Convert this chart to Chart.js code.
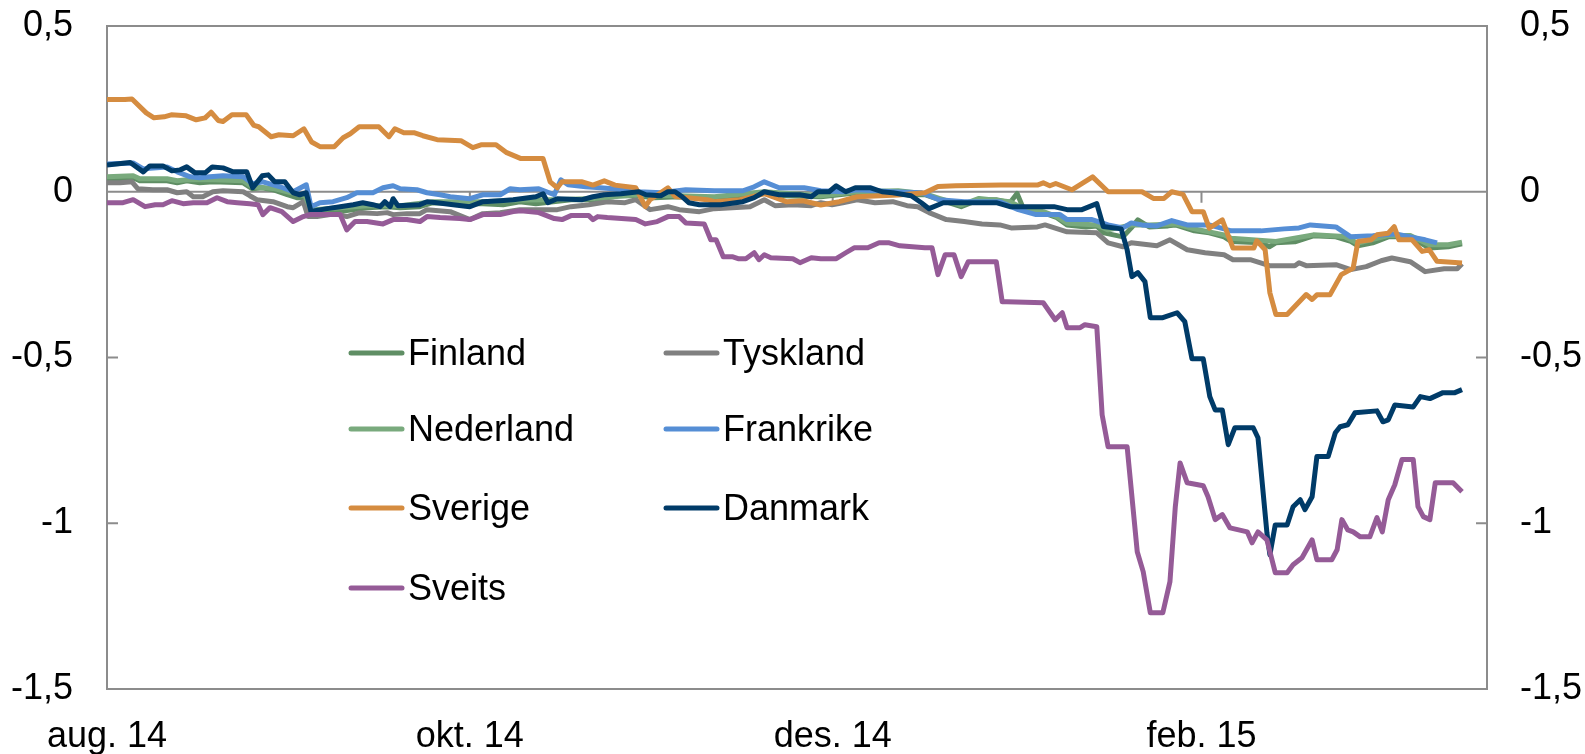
<!DOCTYPE html>
<html>

<head>
    <title>Rente</title>
    <script src="https://cdn.jsdelivr.net/npm/chart.js"></script>
    <style>
        body { margin: 0; background: #fff; }
        #wrap { width: 1585px; height: 754px; position: relative; }
    </style>
</head>

<body>
    <div id="wrap"><canvas id="myChart"></canvas></div>

    <script>
        // x = dager etter 1. aug. 2014, y = prosentpoeng
        const tickDays = [0, 61, 122, 184];
        const tickLabels = ["aug. 14", "okt. 14", "des. 14", "feb. 15"];

        const seriesNames = ["Finland", "Tyskland", "Nederland", "Frankrike", "Sverige", "Danmark", "Sveits"];
        const seriesColors = ["#5f8e64", "#808080", "#79aa7d", "#558ed5", "#d58c40", "#003b68", "#955b97"];

        const finland = [[0,0.036],[4.4,0.042],[5.5,0.033],[10.1,0.033],[11.8,0.027],[13.4,0.033],[15.6,0.027],[17.8,0.03],[22.9,0.027],[24.4,0.009],[26.1,0.012],[27.9,0.006],[30.3,-0.009],[31.9,-0.018],[33.3,-0.018],[34.3,-0.06],[38,-0.054],[40.3,-0.057],[43.7,-0.048],[47.1,-0.045],[49.3,-0.048],[52.6,-0.045],[54.8,-0.033],[59.3,-0.036],[63.2,-0.036],[66.6,-0.039],[69.4,-0.03],[72.1,-0.036],[75,-0.03],[78,-0.024],[82,-0.024],[86,-0.012],[89,-0.012],[92,-0.018],[96,-0.015],[102.1,-0.018],[106,-0.02],[110.5,-0.003],[114,-0.012],[120,-0.015],[126.1,-0.003],[130,-0.003],[133,0],[134.5,-0.009],[137.5,-0.009],[139.9,-0.024],[143.6,-0.045],[146.6,-0.024],[149.5,-0.024],[151.8,-0.033],[153,-0.005],[154,-0.048],[157.4,-0.063],[159.7,-0.078],[161.4,-0.1],[164.6,-0.106],[166.4,-0.103],[167.6,-0.124],[170.8,-0.136],[172.2,-0.109],[173.3,-0.085],[175.2,-0.106],[178.4,-0.103],[179.6,-0.1],[182.8,-0.118],[185.3,-0.124],[187.8,-0.136],[189,-0.15],[194,-0.154],[195.4,-0.166],[196.5,-0.154],[199.7,-0.151],[202.8,-0.133],[206.6,-0.136],[209.1,-0.15],[210.3,-0.163],[212.8,-0.154],[215.4,-0.136],[219.1,-0.136],[222.3,-0.17],[225.5,-0.166],[227.8,-0.157]];

        const tyskland = [[0,0.027],[2.2,0.027],[4.2,0.03],[5.2,0.009],[7.7,0.006],[10.1,0.006],[11.8,-0.003],[13.4,0],[14.5,-0.015],[16.1,-0.015],[17.8,0],[19.5,0.003],[22.9,0],[24,-0.012],[25.2,-0.024],[27.9,-0.03],[30.3,-0.045],[31.3,-0.048],[33,-0.03],[33.8,-0.075],[35.3,-0.075],[37.5,-0.069],[39.2,-0.069],[40.3,-0.075],[42.5,-0.063],[45.4,-0.066],[47.1,-0.063],[48.1,-0.069],[50.4,-0.066],[52.6,-0.066],[53.8,-0.054],[57.7,-0.06],[61,-0.084],[63.2,-0.066],[66.1,-0.063],[69.4,-0.054],[72.6,-0.054],[75.7,-0.054],[78,-0.045],[81,-0.039],[84.1,-0.03],[87.1,-0.033],[88.9,-0.024],[91.3,-0.054],[94.3,-0.045],[96.2,-0.054],[99.6,-0.06],[102.1,-0.051],[105.1,-0.048],[108.1,-0.045],[110.5,-0.024],[112.3,-0.042],[115.3,-0.039],[118.4,-0.042],[120,-0.033],[121.9,-0.039],[123.7,-0.033],[126.1,-0.024],[129.1,-0.033],[132.1,-0.03],[134.5,-0.042],[136.3,-0.045],[138.2,-0.063],[141.1,-0.084],[144.1,-0.09],[147.1,-0.097],[150.1,-0.1],[152,-0.109],[156.4,-0.106],[157.7,-0.1],[161.4,-0.121],[166.4,-0.124],[168.3,-0.154],[170.8,-0.166],[172.2,-0.154],[176.5,-0.163],[178.7,-0.145],[181.6,-0.175],[184.6,-0.184],[187.8,-0.19],[189.3,-0.205],[192.2,-0.205],[195.4,-0.223],[199.7,-0.223],[200.4,-0.214],[201.6,-0.223],[206.6,-0.22],[209.1,-0.235],[211.7,-0.226],[214.2,-0.208],[216,-0.2],[219.1,-0.211],[221.6,-0.241],[224.8,-0.232],[227,-0.232],[227.8,-0.217]];

        const nederland = [[0,0.045],[4.4,0.048],[5.5,0.039],[10.1,0.039],[11.8,0.033],[13.4,0.036],[17.8,0.036],[22.9,0.033],[24.4,0.015],[27.9,0.01],[30.3,0],[33.3,-0.012],[34.3,-0.055],[38,-0.05],[43.7,-0.042],[49.3,-0.042],[54.8,-0.03],[63.2,-0.03],[69.4,-0.025],[75,-0.024],[82,-0.02],[89,-0.009],[96,-0.012],[102.1,-0.015],[110.5,0],[120,-0.012],[126.1,0],[133,0.003],[137.5,-0.006],[139.9,-0.02],[143.6,-0.04],[146.6,-0.02],[151.8,-0.03],[154,-0.05],[157.4,-0.06],[159.7,-0.075],[161.4,-0.095],[166.4,-0.1],[168.3,-0.115],[172.2,-0.1],[175.2,-0.1],[179.6,-0.097],[182.8,-0.112],[187.8,-0.13],[189,-0.14],[196.5,-0.15],[202.8,-0.13],[208,-0.135],[210.3,-0.155],[215.4,-0.132],[219.1,-0.132],[222.3,-0.16],[225.5,-0.16],[227.8,-0.152]];

        const frankrike = [[0,0.084],[4.4,0.087],[6.1,0.069],[10.1,0.075],[11.8,0.06],[14,0.045],[15.6,0.042],[17.3,0.045],[19.5,0.048],[22.9,0.045],[24.5,0.024],[26.2,0.03],[29.1,0.015],[31.3,0],[33.5,0.021],[34.3,-0.045],[35.8,-0.033],[38,-0.03],[40.3,-0.018],[42,-0.003],[44.7,-0.003],[46.4,0.012],[48.1,0.018],[49.3,0.009],[52.1,0.006],[53.8,-0.003],[56,-0.009],[57.7,-0.015],[61,-0.021],[63.2,-0.009],[66.1,-0.009],[67.8,0.009],[69.4,0.006],[72.6,0.009],[75.2,-0.009],[76.3,0.036],[77.5,0.021],[80.5,0.015],[82.9,0.012],[87.1,0.006],[89.4,0],[93.1,-0.003],[97.3,0.006],[102.1,0.003],[106.9,0.003],[108.8,0.015],[110.5,0.03],[113,0.012],[117.2,0.012],[120,0.003],[123.7,0],[126.1,0.006],[132.1,0],[136.9,-0.003],[139.9,-0.024],[144.1,-0.03],[150.1,-0.03],[153.2,-0.054],[156.2,-0.069],[160.2,-0.069],[161.4,-0.084],[165.6,-0.084],[168.3,-0.1],[170.8,-0.109],[172.2,-0.094],[174,-0.1],[176.5,-0.103],[179,-0.087],[181.6,-0.1],[185.3,-0.1],[189,-0.118],[194,-0.118],[197.9,-0.112],[200.4,-0.109],[202.3,-0.1],[206.6,-0.106],[209.1,-0.136],[212.8,-0.133],[216.7,-0.127],[219.1,-0.136],[221.6,-0.145],[223.6,-0.154]];

        const sverige = [[0,0.278],[3,0.278],[4.2,0.28],[6.6,0.238],[7.9,0.223],[9.6,0.226],[10.8,0.232],[13.3,0.229],[15,0.217],[16.5,0.223],[17.5,0.24],[18.7,0.215],[19.5,0.212],[21,0.232],[23.4,0.232],[24.7,0.2],[25.5,0.196],[27.6,0.166],[28.9,0.172],[31.3,0.169],[33.1,0.19],[34.4,0.15],[35.8,0.136],[38.2,0.136],[39.7,0.163],[40.9,0.175],[42.4,0.196],[45.7,0.196],[47.4,0.166],[48.4,0.19],[49.9,0.178],[51.6,0.178],[53.1,0.169],[55.5,0.157],[59.5,0.154],[61.5,0.133],[63,0.142],[65.4,0.142],[67.2,0.118],[69.6,0.1],[73.3,0.1],[74.5,0.03],[75.7,0.012],[76.5,0.03],[79.9,0.03],[81.7,0.02],[83.6,0.033],[85.4,0.02],[88.9,0.012],[90.5,-0.045],[91.3,-0.024],[94.3,0.012],[95.5,-0.014],[100.9,-0.024],[102.1,-0.03],[106.4,-0.024],[110.5,-0.006],[114.2,-0.03],[117,-0.027],[120,-0.04],[123.1,-0.03],[126.1,-0.015],[133,-0.01],[137.5,-0.003],[139.7,0.016],[142.7,0.018],[150.3,0.02],[156.4,0.02],[157.4,0.027],[158.5,0.018],[159.5,0.025],[162.2,0.006],[165.7,0.045],[168.3,0],[174,0],[175.9,-0.02],[177.7,-0.02],[179,0],[180.9,-0.008],[182.4,-0.06],[184.3,-0.06],[185.3,-0.11],[187.5,-0.085],[189.3,-0.17],[192.8,-0.17],[193.3,-0.148],[194.7,-0.175],[195.5,-0.305],[196.5,-0.37],[198.4,-0.37],[201.6,-0.31],[202.6,-0.325],[203.4,-0.311],[205.6,-0.311],[207.5,-0.25],[209.5,-0.23],[210.3,-0.15],[212.5,-0.145],[213.5,-0.13],[215.4,-0.125],[216.4,-0.105],[217.2,-0.145],[219.4,-0.145],[221.1,-0.18],[222.3,-0.175],[223.6,-0.21],[227.8,-0.215]];

        const danmark = [[0,0.081],[3.9,0.088],[6.1,0.06],[7.2,0.078],[9.4,0.078],[10.9,0.063],[12.3,0.066],[13.4,0.075],[14.8,0.057],[16.5,0.057],[17.7,0.075],[19.5,0.072],[21.2,0.06],[23.5,0.06],[24.5,0.012],[26.1,0.048],[27.1,0.051],[28.2,0.03],[29.9,0.03],[31.3,-0.003],[32.4,-0.009],[33.5,-0.003],[34.3,-0.06],[35,-0.057],[37,-0.051],[39.2,-0.045],[41.4,-0.039],[43,-0.033],[44.7,-0.039],[45.9,-0.045],[46.7,-0.03],[47.6,-0.045],[48.1,-0.021],[48.9,-0.042],[52.6,-0.039],[53.8,-0.03],[55.5,-0.033],[58.2,-0.039],[61,-0.045],[63.2,-0.03],[66.1,-0.027],[68.3,-0.024],[72.1,-0.015],[73.3,-0.006],[74.1,-0.033],[75.7,-0.021],[79.9,-0.024],[81.7,-0.015],[83.6,-0.009],[86.4,-0.006],[89.4,0],[90.6,-0.009],[93.1,-0.012],[94.3,0],[95.5,0],[96.7,-0.015],[97.8,-0.033],[99.6,-0.039],[103.2,-0.039],[106.9,-0.03],[108.8,-0.018],[110.5,0],[113,-0.009],[116.5,-0.009],[118.4,-0.015],[119.5,0],[121.4,0],[122.6,0.018],[124.2,0],[125.8,0.012],[128.4,0.012],[130.3,0],[132.1,-0.003],[135.2,-0.012],[136.9,-0.033],[138.2,-0.051],[140.6,-0.033],[142.9,-0.033],[149.5,-0.033],[151.8,-0.045],[159.2,-0.045],[161.4,-0.054],[163.9,-0.054],[166.4,-0.036],[167.5,-0.105],[170.5,-0.112],[171.5,-0.175],[172.3,-0.256],[173.3,-0.244],[174.5,-0.271],[175.4,-0.38],[177.5,-0.38],[179.9,-0.365],[181.2,-0.392],[182.4,-0.504],[184.3,-0.504],[185.4,-0.618],[186.3,-0.658],[187.5,-0.658],[188.5,-0.763],[189.6,-0.712],[192.7,-0.712],[193.5,-0.742],[195,-1.029],[195.5,-1.095],[196.4,-1.005],[198.4,-1.005],[199.4,-0.95],[200.6,-0.929],[201.4,-0.959],[202.6,-0.92],[203.4,-0.799],[205.3,-0.799],[206.5,-0.727],[207.3,-0.709],[208.6,-0.703],[209.8,-0.667],[213.5,-0.661],[214.5,-0.694],[215.4,-0.688],[216.5,-0.643],[219.6,-0.649],[220.8,-0.618],[222.4,-0.624],[224.6,-0.606],[226.6,-0.606],[227.8,-0.597]];

        const sveits = [[0,-0.033],[2.7,-0.033],[4.4,-0.024],[6.4,-0.045],[8.1,-0.039],[9.4,-0.039],[10.9,-0.027],[12.8,-0.036],[14.5,-0.033],[16.8,-0.033],[18.5,-0.018],[20.2,-0.03],[21.9,-0.033],[24,-0.036],[25.4,-0.039],[26.2,-0.069],[27.4,-0.048],[29.4,-0.06],[31.3,-0.09],[33,-0.075],[34.1,-0.069],[39.2,-0.069],[40.3,-0.115],[41.7,-0.09],[43.7,-0.09],[46.4,-0.097],[48.1,-0.084],[50.4,-0.084],[52.6,-0.09],[53.8,-0.075],[56,-0.078],[59.3,-0.081],[61,-0.084],[63.2,-0.069],[66.1,-0.069],[68.3,-0.06],[69.6,-0.057],[72.6,-0.063],[75.2,-0.081],[76.5,-0.084],[78,-0.072],[81,-0.072],[81.7,-0.084],[82.5,-0.075],[84.1,-0.078],[88.9,-0.084],[90.5,-0.097],[92.5,-0.09],[94.3,-0.075],[96.2,-0.075],[97.3,-0.094],[100.4,-0.097],[101.5,-0.145],[102.4,-0.145],[103.6,-0.196],[105.1,-0.196],[106.1,-0.202],[107.4,-0.202],[108.8,-0.184],[109.6,-0.205],[110.5,-0.19],[111.6,-0.199],[115.3,-0.202],[116.5,-0.214],[118.4,-0.199],[120,-0.202],[122.6,-0.202],[124.2,-0.184],[125.6,-0.169],[127.9,-0.169],[129.8,-0.154],[131.5,-0.154],[133.3,-0.163],[137.5,-0.169],[138.7,-0.169],[139.7,-0.25],[140.9,-0.19],[142.4,-0.19],[143.6,-0.256],[144.8,-0.211],[149.5,-0.211],[150.5,-0.332],[151.3,-0.332],[157.4,-0.335],[159.4,-0.386],[160.6,-0.365],[161.4,-0.41],[163.6,-0.41],[164.4,-0.401],[166.4,-0.407],[167.3,-0.673],[168.3,-0.769],[171.5,-0.769],[173.2,-1.086],[174.2,-1.146],[175.4,-1.27],[177.5,-1.27],[178.7,-1.176],[179.6,-0.95],[180.4,-0.818],[181.6,-0.878],[184.3,-0.887],[185.1,-0.92],[186.3,-0.989],[187.5,-0.974],[188.8,-1.014],[191.7,-1.026],[192.5,-1.059],[193.5,-1.026],[195,-1.05],[196.4,-1.149],[198.4,-1.149],[199.4,-1.125],[200.9,-1.104],[202.6,-1.05],[203.4,-1.11],[205.9,-1.11],[206.8,-1.08],[207.6,-0.989],[208.6,-1.02],[209.5,-1.026],[210.7,-1.041],[212.3,-1.041],[213.5,-0.983],[214.4,-1.026],[215.4,-0.929],[216.5,-0.884],[217.7,-0.808],[219.6,-0.808],[220.4,-0.95],[221.3,-0.98],[222.4,-0.989],[223.3,-0.878],[226.3,-0.878],[227.8,-0.905]];

        const seriesData = [finland, tyskland, nederland, frankrike, sverige, danmark, sveits];

        const axisColor = "#8c8c8c";
        const fontFamily = "'Liberation Sans', Arial, sans-serif";

        function fmt(v) {
            return String(v).replace(".", ",");
        }

        // ramme, tick-streker og legende i plottet
        const framePlugin = {
            id: "frame",
            beforeDatasetsDraw(chart) {
                const ctx = chart.ctx;
                const a = chart.chartArea;
                const x = chart.scales.x;
                const y = chart.scales.y;
                ctx.save();
                ctx.strokeStyle = axisColor;
                ctx.lineWidth = 2;
                ctx.strokeRect(a.left, a.top, a.right - a.left, a.bottom - a.top);
                ctx.beginPath();
                const zero = y.getPixelForValue(0);
                ctx.moveTo(a.left, zero);
                ctx.lineTo(a.right, zero);
                y.ticks.forEach(t => {
                    const py = y.getPixelForValue(t.value);
                    ctx.moveTo(a.left, py);
                    ctx.lineTo(a.left + 11, py);
                    ctx.moveTo(a.right, py);
                    ctx.lineTo(a.right - 11, py);
                });
                tickDays.forEach(d => {
                    const px = x.getPixelForValue(d);
                    ctx.moveTo(px, zero);
                    ctx.lineTo(px, zero + 11);
                });
                ctx.stroke();
                ctx.restore();
            },
            afterDraw(chart) {
                const ctx = chart.ctx;
                const cols = [349, 664];
                const rows = [355, 431, 510, 590];
                ctx.save();
                ctx.font = "36px " + fontFamily;
                ctx.textBaseline = "middle";
                ctx.fillStyle = "#000";
                ctx.lineCap = "round";
                ctx.lineWidth = 5;
                chart.data.datasets.forEach((ds, i) => {
                    const lx = cols[i % 2];
                    const ly = rows[Math.floor(i / 2)];
                    ctx.strokeStyle = ds.borderColor;
                    ctx.beginPath();
                    ctx.moveTo(lx + 2, ly - 2);
                    ctx.lineTo(lx + 53, ly - 2);
                    ctx.stroke();
                    ctx.fillText(ds.label, lx + 59, ly);
                });
                ctx.restore();
            }
        };

        const datasets = seriesNames.map((name, i) => ({
            label: name,
            data: seriesData[i].map(p => ({ x: p[0], y: p[1] })),
            borderColor: seriesColors[i],
            backgroundColor: seriesColors[i],
            borderWidth: 5,
            pointRadius: 0,
            tension: 0,
            borderJoinStyle: "round",
            order: 10 - i,
        }));

        function noEdgePadding(axis) {
            axis.paddingTop = 0;
            axis.paddingBottom = 0;
            axis.paddingLeft = 0;
            axis.paddingRight = 0;
        }

        const ctx = document.getElementById("myChart").getContext("2d");
        new Chart(ctx, {
            type: "line",
            data: { datasets: datasets },
            options: {
                responsive: true,
                maintainAspectRatio: false,
                animation: false,
                layout: { padding: { top: 26, left: 0, right: 0, bottom: 0 } },
                plugins: {
                    legend: { display: false },
                    tooltip: { enabled: false },
                },
                scales: {
                    x: {
                        type: "linear",
                        position: "bottom",
                        min: 0,
                        max: 232,
                        afterBuildTicks: axis => {
                            axis.ticks = tickDays.map(v => ({ value: v }));
                        },
                        afterFit: axis => { axis.height = 65; noEdgePadding(axis); },
                        grid: { display: false, drawTicks: false },
                        border: { display: false },
                        ticks: {
                            autoSkip: false,
                            maxRotation: 0,
                            padding: 26,
                            color: "#000",
                            font: { size: 36, family: fontFamily },
                            callback: (v) => tickLabels[tickDays.indexOf(v)],
                        },
                    },
                    y: {
                        position: "left",
                        min: -1.5,
                        max: 0.5,
                        afterFit: axis => { axis.width = 107; noEdgePadding(axis); },
                        grid: { display: false, drawTicks: false },
                        border: { display: false },
                        ticks: {
                            stepSize: 0.5,
                            padding: 34,
                            color: "#000",
                            font: { size: 36, family: fontFamily },
                            callback: v => fmt(v),
                        },
                    },
                    y2: {
                        position: "right",
                        min: -1.5,
                        max: 0.5,
                        afterFit: axis => { axis.width = 98; noEdgePadding(axis); },
                        grid: { display: false, drawTicks: false },
                        border: { display: false },
                        ticks: {
                            stepSize: 0.5,
                            padding: 33,
                            color: "#000",
                            font: { size: 36, family: fontFamily },
                            callback: v => fmt(v),
                        },
                    },
                },
            },
            plugins: [framePlugin],
        });
    </script>
</body>

</html>
